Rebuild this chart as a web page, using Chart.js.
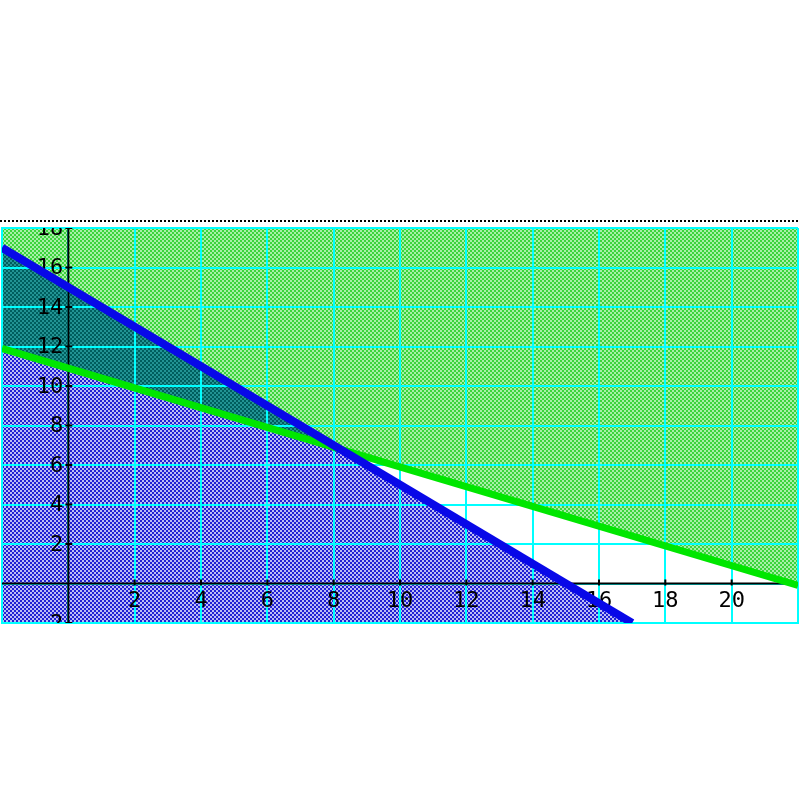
<!DOCTYPE html>
<html>
<head>
<meta charset="utf-8">
<script src="https://cdn.jsdelivr.net/npm/chart.js@4"></script>
<style>
  body { margin: 0; background: #fff; }
</style>
</head>
<body>
<canvas id="chart" width="800" height="800"></canvas>
<script>
// constraint lines
const blueX = [-2, 17];
const blueY = [17, -2];
const greenX = [-2, 22];
const greenY = [11.9, -0.1];

const xTicks = [2, 4, 6, 8, 10, 12, 14, 16, 18, 20];
const yTicks = [-2, 2, 4, 6, 8, 10, 12, 14, 16, 18];

const pts = (xs, ys) => xs.map((x, i) => ({ x: x, y: ys[i] }));

// 2px checkerboard fill, like the old dithered shading
const checker = (a, b) => {
  const c = document.createElement("canvas");
  c.width = 4;
  c.height = 4;
  const g = c.getContext("2d");
  g.fillStyle = a;
  g.fillRect(0, 0, 4, 4);
  g.fillStyle = b;
  g.fillRect(0, 0, 2, 2);
  g.fillRect(2, 2, 2, 2);
  return g.createPattern(c, "repeat");
};

const bluePat = checker("#bcbcf4", "#2020d4");
const greenPat = checker("#a8f0a8", "#3cd43c");
const tealPat = checker("#229494", "#005e5e");

const axesPlugin = {
  id: "axes",
  beforeDatasetsDraw(chart) {
    const { ctx, chartArea: a } = chart;
    const x = chart.scales.x;
    const y = chart.scales.y;
    const x0 = x.getPixelForValue(0);
    const y0 = y.getPixelForValue(0);

    ctx.save();
    ctx.beginPath();
    ctx.rect(a.left, a.top, a.right - a.left, a.bottom - a.top);
    ctx.clip();

    ctx.strokeStyle = "#000";
    ctx.lineWidth = 2;
    ctx.beginPath();
    ctx.moveTo(x0, a.top);
    ctx.lineTo(x0, a.bottom);
    ctx.moveTo(a.left, y0);
    ctx.lineTo(a.right, y0);
    yTicks.forEach((v) => {
      const p = y.getPixelForValue(v);
      ctx.moveTo(x0 - 3, p);
      ctx.lineTo(x0 + 4, p);
    });
    xTicks.forEach((v) => {
      const p = x.getPixelForValue(v);
      ctx.moveTo(p, y0 - 4);
      ctx.lineTo(p, y0 + 2);
    });
    ctx.stroke();

    ctx.fillStyle = "#000";
    ctx.font = "22px 'DejaVu Sans Mono'";
    ctx.textAlign = "right";
    ctx.textBaseline = "middle";
    yTicks.forEach((v) => {
      ctx.fillText(String(v), x0 - 5, y.getPixelForValue(v) + 1);
    });
    ctx.textAlign = "center";
    ctx.textBaseline = "top";
    xTicks.forEach((v) => {
      ctx.fillText(String(v), x.getPixelForValue(v), y0 + 7);
    });
    ctx.restore();
  },
  afterDraw(chart) {
    const { ctx, chartArea: a } = chart;
    ctx.save();
    ctx.strokeStyle = "#000";
    ctx.lineWidth = 2;
    ctx.setLineDash([2, 2]);
    ctx.beginPath();
    ctx.moveTo(0, a.top - 7);
    ctx.lineTo(chart.width, a.top - 7);
    ctx.stroke();
    ctx.restore();
  },
};

new Chart(document.getElementById("chart"), {
  type: "line",
  data: {
    datasets: [
      {
        // region under the blue line and over the green one
        data: pts(blueX, blueY),
        borderWidth: 0,
        borderColor: "rgba(0,0,0,0)",
        pointRadius: 0,
        fill: { target: 2, above: tealPat, below: "rgba(0,0,0,0)" },
      },
      {
        data: pts(blueX, blueY),
        borderColor: "#0808e8",
        borderWidth: 8,
        pointRadius: 0,
        backgroundColor: bluePat,
        fill: "start",
      },
      {
        data: pts(greenX, greenY),
        borderColor: "#00e600",
        borderWidth: 7,
        pointRadius: 0,
        backgroundColor: greenPat,
        fill: "end",
      },
    ],
  },
  options: {
    responsive: false,
    animation: false,
    layout: { padding: { left: 2, right: 2, top: 228, bottom: 177 } },
    plugins: {
      legend: { display: false },
      tooltip: { enabled: false },
      filler: { drawTime: "beforeDraw" },
    },
    scales: {
      x: {
        type: "linear",
        min: -2,
        max: 22,
        ticks: { display: false, stepSize: 2 },
        grid: { color: "#00ffff", lineWidth: 2, drawTicks: false },
        border: { color: "#00ffff", width: 2 },
      },
      y: {
        type: "linear",
        min: -2,
        max: 18,
        ticks: { display: false, stepSize: 2 },
        grid: { color: "#00ffff", lineWidth: 2, drawTicks: false },
        border: { color: "#00ffff", width: 2 },
      },
    },
  },
  plugins: [axesPlugin],
});
</script>
</body>
</html>
